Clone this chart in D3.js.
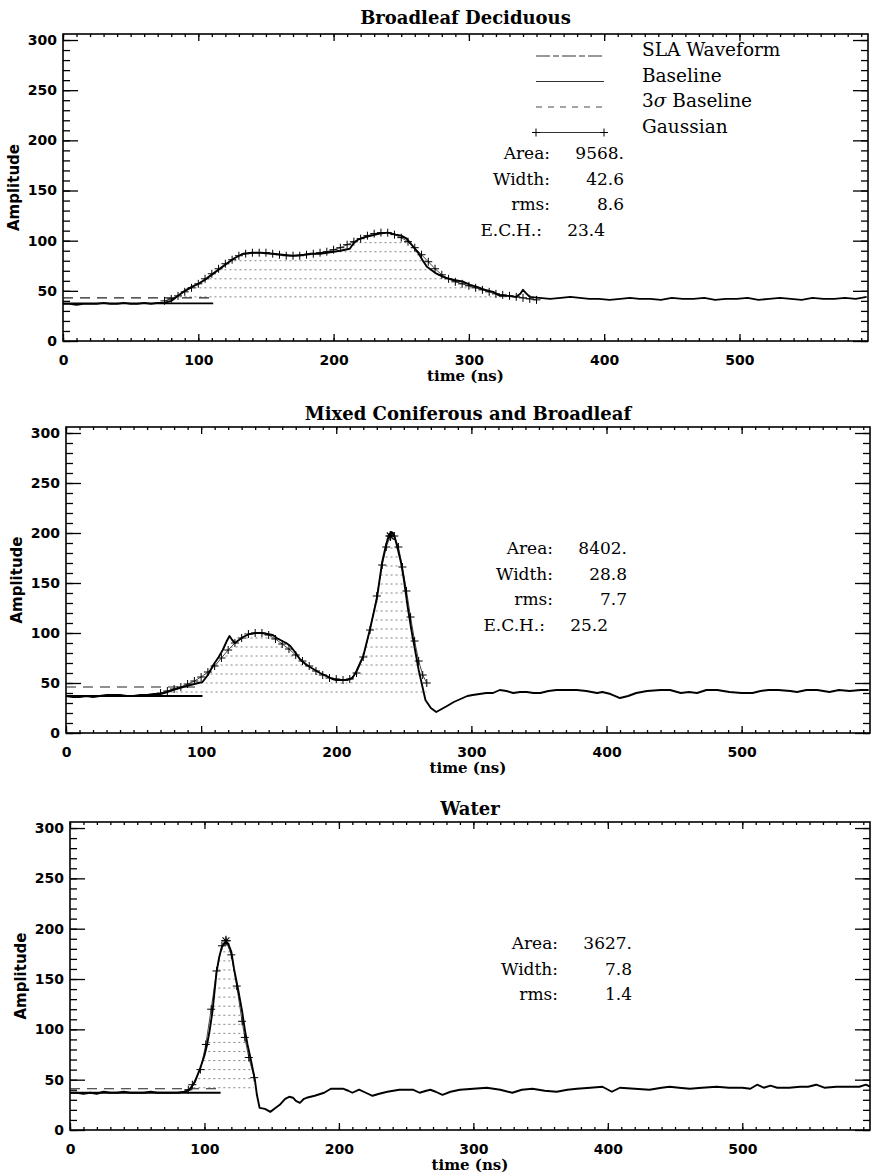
<!DOCTYPE html>
<html><head><meta charset="utf-8">
<script src="https://cdn.jsdelivr.net/npm/d3@7"></script>
<style>body{margin:0;background:#fff}</style>
</head><body>
<svg id="c" width="872" height="1176" xmlns="http://www.w3.org/2000/svg"></svg>
<script>
// ---------------- DATA ----------------
const titles = ["Broadleaf Deciduous", "Mixed Coniferous and Broadleaf", "Water"];
const xTicks = [0, 100, 200, 300, 400, 500];
const yTicks = [0, 50, 100, 150, 200, 250, 300];
const legendLabels = ["SLA Waveform", "Baseline", "3σ Baseline", "Gaussian"];
const statLabels1 = ["Area:", "Width:", "rms:", "E.C.H.:"];
const statValues1 = ["9568.", "42.6", "8.6", "23.4"];
const statLabels2 = ["Area:", "Width:", "rms:", "E.C.H.:"];
const statValues2 = ["8402.", "28.8", "7.7", "25.2"];
const statLabels3 = ["Area:", "Width:", "rms:"];
const statValues3 = ["3627.", "7.8", "1.4"];

const baselineLevels = [37.5, 37, 37];
const baselineEnds = [111, 101, 112];
const sigmaLevels = [43, 46, 41];
const sigmaEnds = [109, 100, 109];

const waveform1 = [[0,37],[5,37],[10,36],[15,37],[20,37],[25,37],[30,38],[35,37],[40,37],[45,38],[50,37],[55,37],[60,38],[65,37],[70,38],[75,38],[80,40],[85,45],[90,50],[95,54],[100,57],[105,61],[110,66],[115,71],[120,76],[126,82],[133,87],[140,88],[146,88],[155,87],[162,86],[170,85],[178,86],[183,87],[190,87],[195,88],[200,89],[205,90],[212,92],[215,98],[218,101],[222,103],[228,105],[234,107],[240,108],[246,106],[250,105],[254,102],[257,97],[260,92],[263,87],[266,80],[269,74],[275,68],[281,64],[288,61],[296,59],[301,56],[306,54],[312,51],[318,49],[323,45],[329,45],[335,44],[338,47],[340,51],[342,48],[345,44],[352,43],[360,42],[368,43],[375,44],[382,43],[389,42],[396,42],[404,41],[412,42],[419,43],[426,42],[434,42],[442,41],[450,43],[458,42],[466,42],[474,43],[482,41],[490,42],[498,42],[506,43],[514,41],[522,42],[530,43],[538,42],[546,41],[554,43],[562,42],[570,42],[578,43],[586,42],[594,44]];
const gaussian1 = [[75,40],[80,42],[85,45],[90,49],[95,53],[100,57],[105,62],[110,67],[115,72],[120,77],[125,81],[130,85],[135,87],[140,88],[145,88],[150,88],[155,87],[160,86],[165,85],[170,85],[175,85],[180,86],[185,87],[190,88],[195,89],[200,91],[205,93],[210,96],[215,99],[220,102],[225,105],[230,107],[235,108],[240,108],[245,106],[250,103],[255,99],[260,93],[265,86],[270,79],[275,72],[280,66],[285,62],[290,59],[295,57],[300,55],[305,53],[310,51],[315,49],[320,47],[325,46],[330,45],[335,44],[340,43],[345,42],[350,41]];
const hatch1 = [44, 53, 62, 71, 80, 89, 98];

const waveform2 = [[0,37],[5,36],[10,36],[15,37],[20,36],[25,37],[30,38],[35,38],[40,38],[45,37],[50,37],[55,38],[60,38],[65,39],[70,39],[75,41],[79,43],[84,45],[89,47],[95,49],[101,51],[105,58],[109,68],[113,76],[116,83],[119,92],[121,97],[123,93],[125,90],[128,93],[131,96],[136,99],[141,100],[145,100],[149,99],[153,98],[156,95],[160,92],[163,90],[166,87],[170,80],[173,74],[178,68],[183,64],[188,60],[193,57],[197,54],[200,53],[204,53],[208,53],[212,55],[215,62],[220,77],[225,104],[230,134],[234,171],[237,189],[239,198],[241,201],[243,197],[245,187],[248,170],[250,154],[253,125],[256,100],[259,78],[261,63],[264,45],[266,33],[270,25],[274,21],[278,24],[282,27],[287,31],[292,34],[297,37],[301,38],[306,39],[311,40],[316,40],[321,43],[326,42],[331,40],[336,41],[341,41],[346,40],[351,40],[357,42],[363,43],[370,43],[378,43],[385,42],[393,40],[397,41],[403,39],[410,35],[416,37],[422,40],[430,42],[440,43],[447,43],[455,40],[461,41],[467,40],[474,43],[482,43],[491,41],[500,40],[508,40],[514,42],[520,43],[527,43],[536,42],[541,41],[548,43],[556,43],[565,41],[572,43],[580,42],[588,43],[594,43]];
const gaussian2 = [[70,40],[75,42],[80,44],[85,46],[90,49],[95,52],[100,56],[105,61],[110,67],[115,75],[120,83],[125,90],[130,95],[135,99],[140,100],[145,100],[150,98],[155,94],[160,89],[165,84],[170,78],[175,72],[180,67],[185,62],[190,58],[195,55],[200,54],[205,53],[210,54],[215,60],[220,76],[225,103],[230,137],[234,168],[237,186],[240,197],[243,197],[246,186],[249,166],[252,142],[255,116],[258,92],[261,72],[264,58],[267,50]];
const hatch2 = [41, 50, 59, 68, 77, 86, 95, 104, 113, 122, 131, 140, 149, 158, 167, 176, 185, 194];

const waveform3 = [[0,37],[5,37],[10,36],[15,37],[20,36],[25,38],[30,37],[35,37],[40,38],[45,37],[50,37],[55,37],[60,38],[65,37],[70,37],[75,37],[80,37],[85,38],[89,40],[93,48],[97,62],[100,74],[102,85],[104,100],[106,118],[109,157],[111,172],[113,182],[116,187],[118,184],[120,177],[122,160],[125,140],[128,118],[130,100],[132,85],[134,73],[136,60],[137.5,50],[139,35],[141,22],[145,21],[149,18],[153,22],[156,25],[160,31],[163,33],[166,32],[168,29],[171,27],[174,31],[176,32],[182,34],[189,37],[194,41],[200,41],[203,41],[207,39],[210,37],[215,40],[220,37],[225,34],[230,36],[236,38],[245,40],[255,40],[260,37],[265,39],[268,40],[272,38],[277,35],[283,38],[290,40],[300,41],[310,42],[320,40],[329,37],[336,40],[344,41],[353,39],[362,38],[370,40],[377,41],[387,42],[396,43],[403,38],[409,42],[420,41],[431,40],[440,42],[446,43],[453,42],[461,41],[470,42],[481,43],[490,42],[500,42],[506,41],[511,45],[516,42],[521,44],[526,42],[535,42],[543,43],[549,43],[555,45],[561,42],[570,43],[578,43],[587,43],[592,45],[595,43]];
const gaussian3 = [[88,40],[91,45],[97,60],[101,85],[105,120],[109,158],[113,183],[116,188],[120,174],[124,143],[128,108],[130,92],[133,72],[137,52]];
const hatch3 = [42, 51, 60, 69, 78, 87, 96, 105, 114, 123, 132, 141, 150, 159, 168, 177];

// ---------------- LAYOUT ----------------
const svg = d3.select("#c");
const frames = [
  {L: 63, R: 868, T: 34, B: 341},
  {L: 66, R: 870, T: 427, B: 733},
  {L: 70, R: 870, T: 822, B: 1130}
];
const panelData = [
  {w: waveform1, g: gaussian1, h: hatch1, sl: statLabels1, sv: statValues1, statX: [550, 624], statY: 159, legend: true, star: false},
  {w: waveform2, g: gaussian2, h: hatch2, sl: statLabels2, sv: statValues2, statX: [553, 627], statY: 554, legend: false, star: true},
  {w: waveform3, g: gaussian3, h: hatch3, sl: statLabels3, sv: statValues3, statX: [558, 632], statY: 949, legend: false, star: true}
];
const serif = "'DejaVu Serif', serif";
const sans = "'DejaVu Sans', sans-serif";
const plusPath = "M-4,0H4M0,-4V4";
const starPath = "M-5,0H5M0,-5V5M-3.5,-3.5L3.5,3.5M-3.5,3.5L3.5,-3.5";

frames.forEach((f, i) => {
  const P = panelData[i];
  const x = d3.scaleLinear().domain([0, 595]).range([f.L, f.R]);
  const y = d3.scaleLinear().domain([0, 306]).range([f.B, f.T]);
  const g = svg.append("g");
  const minorX = d3.range(0, 595, 10);
  const minorY = d3.range(0, 306, 10);

  function styleAxis(sel) {
    sel.select(".domain").remove();
    sel.selectAll("line").attr("stroke", "#000").attr("stroke-width", 1.3);
  }
  // minor ticks
  g.append("g").attr("transform", `translate(${f.L},0)`).call(d3.axisLeft(y).tickValues(minorY).tickSize(-7).tickFormat("")).call(styleAxis);
  g.append("g").attr("transform", `translate(${f.R},0)`).call(d3.axisRight(y).tickValues(minorY).tickSize(-7).tickFormat("")).call(styleAxis);
  g.append("g").attr("transform", `translate(0,${f.B})`).call(d3.axisBottom(x).tickValues(minorX).tickSize(-3).tickFormat("")).call(styleAxis);
  g.append("g").attr("transform", `translate(0,${f.T})`).call(d3.axisTop(x).tickValues(minorX).tickSize(-3).tickFormat("")).call(styleAxis);
  // major ticks
  const la = g.append("g").attr("transform", `translate(${f.L},0)`).call(d3.axisLeft(y).tickValues(yTicks).tickSize(-15).tickPadding(6)).call(styleAxis);
  g.append("g").attr("transform", `translate(${f.R},0)`).call(d3.axisRight(y).tickValues(yTicks).tickSize(-15).tickFormat("")).call(styleAxis);
  const ba = g.append("g").attr("transform", `translate(0,${f.B})`).call(d3.axisBottom(x).tickValues(xTicks).tickSize(-7).tickPadding(14)).call(styleAxis);
  g.append("g").attr("transform", `translate(0,${f.T})`).call(d3.axisTop(x).tickValues(xTicks).tickSize(-7).tickFormat("")).call(styleAxis);
  [la, ba].forEach(a => a.selectAll("text").attr("font-family", sans).attr("font-weight", "bold").attr("font-size", 14).attr("fill", "#000"));

  // frame
  g.append("rect").attr("x", f.L).attr("y", f.T).attr("width", f.R - f.L).attr("height", f.B - f.T)
    .attr("fill", "none").attr("stroke", "#000").attr("stroke-width", 1.6);

  // hatch under gaussian
  const clipId = "clip" + i;
  const area = d3.area().x(d => x(d[0])).y0(y(baselineLevels[i])).y1(d => y(d[1]));
  svg.append("clipPath").attr("id", clipId).append("path").attr("d", area(P.g));
  g.append("g").attr("clip-path", `url(#${clipId})`).selectAll("line").data(P.h).join("line")
    .attr("x1", x(P.g[0][0])).attr("x2", x(P.g[P.g.length - 1][0]))
    .attr("y1", d => y(d)).attr("y2", d => y(d))
    .attr("stroke", "#777").attr("stroke-width", 0.9).attr("stroke-dasharray", "2,3");

  // 3 sigma baseline
  g.append("line").attr("x1", x(0)).attr("x2", x(sigmaEnds[i]))
    .attr("y1", y(sigmaLevels[i])).attr("y2", y(sigmaLevels[i]))
    .attr("stroke", "#222").attr("stroke-width", 1.1).attr("stroke-dasharray", "10,7");
  // baseline
  g.append("line").attr("x1", x(0)).attr("x2", x(baselineEnds[i]))
    .attr("y1", y(baselineLevels[i])).attr("y2", y(baselineLevels[i]))
    .attr("stroke", "#000").attr("stroke-width", 1.8);

  // gaussian line + markers
  const line = d3.line().x(d => x(d[0])).y(d => y(d[1]));
  g.append("path").attr("d", line(P.g)).attr("fill", "none").attr("stroke", "#333").attr("stroke-width", 0.9);
  g.selectAll(".mk").data(P.g).join("path").attr("class", "mk")
    .attr("transform", d => `translate(${x(d[0])},${y(d[1])})`).attr("d", plusPath)
    .attr("stroke", "#000").attr("stroke-width", 1);
  if (P.star) {
    const top = P.g.reduce((a, b) => (b[1] > a[1] ? b : a));
    g.append("path").attr("transform", `translate(${x(top[0])},${y(top[1])})`).attr("d", starPath)
      .attr("stroke", "#000").attr("stroke-width", 1.1);
  }

  // waveform
  g.append("path").attr("d", line(P.w)).attr("fill", "none").attr("stroke", "#000")
    .attr("stroke-width", 1.9).attr("stroke-linejoin", "round");

  // title
  g.append("text").attr("x", (f.L + f.R) / 2).attr("y", f.T - (i === 0 ? 10 : 7))
    .attr("text-anchor", "middle").attr("font-family", serif).attr("font-weight", "bold")
    .attr("font-size", 18).text(titles[i]);
  // axis titles
  g.append("text").attr("x", (f.L + f.R) / 2).attr("y", f.B + 40).attr("text-anchor", "middle")
    .attr("font-family", serif).attr("font-weight", "bold").attr("font-size", 15).text("time (ns)");
  g.append("text").attr("transform", `translate(${f.L - 44},${(f.T + f.B) / 2}) rotate(-90)`)
    .attr("text-anchor", "middle").attr("font-family", sans).attr("font-weight", "bold")
    .attr("font-size", 15).text("Amplitude");

  // stats
  P.sl.forEach((lab, k) => {
    const ech = lab === "E.C.H.:";
    const yy = P.statY + k * 25.5;
    g.append("text").attr("x", P.statX[0] - (ech ? 8 : 0)).attr("y", yy).attr("text-anchor", "end")
      .attr("font-family", serif).attr("font-size", 17).text(lab);
    g.append("text").attr("x", P.statX[1] - (ech ? 19 : 0)).attr("y", yy).attr("text-anchor", "end")
      .attr("font-family", serif).attr("font-size", 17).text(P.sv[k]);
  });

  // legend
  if (P.legend) {
    const styles = [
      {dash: "14,3,6,3", w: 1},
      {dash: null, w: 1.1},
      {dash: "6,6", w: 0.9},
      {dash: null, w: 1, plus: true}
    ];
    legendLabels.forEach((lab, k) => {
      const ly = 56 + k * 25.5;
      const s = styles[k];
      const ln = g.append("line").attr("x1", 536).attr("x2", 604).attr("y1", ly).attr("y2", ly)
        .attr("stroke", "#333").attr("stroke-width", s.w);
      if (s.dash) ln.attr("stroke-dasharray", s.dash);
      if (s.plus) {
        [536, 604].forEach(px => g.append("path").attr("transform", `translate(${px},${ly})`).attr("d", plusPath).attr("stroke", "#000"));
      }
      const t = g.append("text").attr("x", 642).attr("y", ly).attr("font-family", serif).attr("font-size", 18.5);
      if (lab.startsWith("3σ")) {
        t.append("tspan").text("3");
        t.append("tspan").attr("font-style", "italic").text("σ");
        t.append("tspan").text(lab.slice(2));
      } else t.text(lab);
    });
  }
});
</script>
</body></html>
